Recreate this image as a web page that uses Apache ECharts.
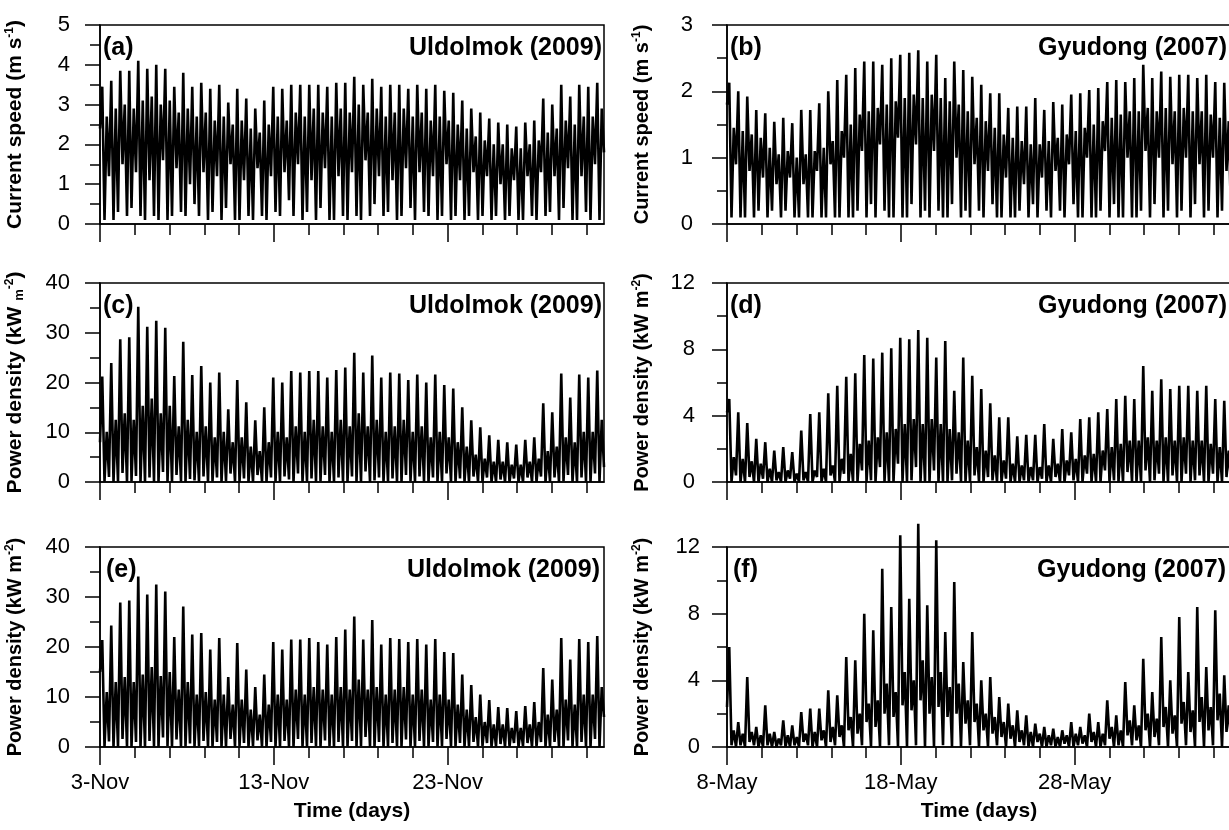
<!DOCTYPE html>
<html>
<head>
<meta charset="utf-8">
<title>Current speed and power density - Uldolmok / Gyudong</title>
<script src="https://cdn.jsdelivr.net/npm/echarts@6/dist/echarts.min.js"></script>
<style>
  html, body { margin: 0; padding: 0; background: #fff; }
  #chart { width: 1229px; height: 830px; }
</style>
</head>
<body>
<div id="chart"></div>
<script>
// one sample every half tidal hump (~3.1 h), expressed in days
const STEP = 29 / 224;

const dayTicks = [0, 2, 4, 6, 8, 10, 12, 14, 16, 18, 20, 22, 24, 26, 28];
const majorTicks = [0, 10, 20];
const novLabels = ['3-Nov', '13-Nov', '23-Nov'];
const mayLabels = ['8-May', '18-May', '28-May'];

// (a) Uldolmok current speed, m/s  (slack, peak, slack, peak ...)
const speedUldolmok = [
  2.4, 3.45, 0.1, 2.7, 1.2, 3.6, 0.1, 2.9, 0.3, 3.85, 1.5, 3.0, 0.2, 3.85, 0.4, 2.9,
  1.3, 4.1, 0.2, 3.1, 0.1, 3.9, 1.1, 3.2, 0.2, 4.0, 0.1, 3.0, 1.6, 3.9, 0.1, 3.1,
  0.2, 3.45, 1.4, 2.8, 0.3, 3.8, 0.2, 2.9, 1.0, 3.45, 0.5, 2.7, 0.2, 3.55, 1.3, 2.8,
  0.1, 3.4, 0.3, 2.6, 1.2, 3.5, 0.1, 2.7, 0.4, 3.05, 1.5, 2.5, 0.1, 3.4, 0.1, 2.6,
  1.1, 3.15, 0.2, 2.4, 0.1, 2.9, 1.4, 2.3, 0.2, 3.1, 0.1, 2.5, 1.2, 3.45, 0.3, 2.7,
  0.2, 3.4, 1.3, 2.6, 0.6, 3.5, 0.2, 2.8, 1.5, 3.5, 0.1, 2.7, 0.3, 3.5, 1.1, 2.9,
  0.1, 3.5, 0.4, 2.8, 1.4, 3.45, 0.1, 2.7, 0.1, 3.55, 1.2, 2.9, 0.2, 3.55, 0.1, 2.8,
  1.3, 3.7, 0.2, 3.0, 0.1, 3.5, 1.6, 2.8, 0.2, 3.65, 0.5, 2.9, 1.2, 3.45, 0.2, 2.7,
  0.3, 3.5, 1.1, 2.8, 0.1, 3.5, 0.2, 2.9, 1.4, 3.4, 0.4, 2.7, 0.1, 3.5, 1.3, 2.8,
  0.3, 3.4, 0.2, 2.6, 1.2, 3.5, 0.1, 2.7, 0.2, 3.35, 1.5, 2.6, 0.1, 3.3, 0.2, 2.5,
  1.1, 3.1, 0.1, 2.4, 0.2, 2.9, 1.3, 2.2, 0.1, 2.8, 0.2, 2.1, 1.2, 2.65, 0.1, 2.0,
  0.2, 2.55, 1.0, 2.0, 0.1, 2.5, 0.2, 1.9, 1.1, 2.45, 0.1, 1.9, 0.1, 2.55, 1.2, 2.0,
  0.2, 2.6, 0.1, 2.1, 1.3, 3.15, 0.2, 2.3, 0.3, 3.0, 1.2, 2.4, 0.1, 3.5, 0.4, 2.6,
  1.4, 3.2, 0.1, 2.5, 0.1, 3.5, 1.2, 2.7, 0.3, 3.45, 0.1, 2.7, 1.5, 3.55, 0.1, 2.9,
  1.8
];

// (b) Gyudong current speed, m/s
const speedGyudong = [
  1.8, 2.13, 0.1, 1.45, 0.9, 2.0, 0.1, 1.4, 0.1, 1.92, 0.8, 1.35, 0.1, 1.72, 0.2, 1.3,
  0.7, 1.67, 0.1, 1.15, 0.2, 1.54, 0.6, 1.05, 0.1, 1.6, 0.2, 1.1, 0.7, 1.52, 0.1, 1.0,
  0.1, 1.72, 0.6, 1.05, 0.1, 1.72, 0.1, 1.1, 0.8, 1.82, 0.1, 1.15, 0.1, 2.0, 0.9, 1.25,
  0.1, 2.17, 0.1, 1.4, 1.0, 2.25, 0.1, 1.5, 0.1, 2.35, 0.2, 1.65, 1.1, 2.45, 0.1, 1.7,
  0.3, 2.45, 0.1, 1.75, 1.2, 2.4, 0.2, 1.8, 0.1, 2.5, 0.1, 1.85, 1.3, 2.55, 0.1, 1.9,
  0.1, 2.58, 0.3, 1.95, 1.2, 2.62, 0.1, 1.9, 0.2, 2.45, 0.1, 1.95, 1.1, 2.55, 0.2, 1.9,
  0.1, 2.2, 0.1, 1.85, 0.3, 2.45, 1.0, 1.8, 0.1, 2.32, 0.2, 1.7, 0.1, 2.22, 0.9, 1.6,
  0.2, 2.1, 0.1, 1.55, 0.8, 1.97, 0.3, 1.45, 0.1, 1.97, 0.1, 1.35, 0.7, 1.75, 0.1, 1.3,
  0.1, 1.77, 0.2, 1.25, 0.6, 1.77, 0.1, 1.2, 0.3, 1.9, 0.1, 1.2, 0.7, 1.72, 0.2, 1.25,
  0.1, 1.84, 0.8, 1.3, 0.2, 1.8, 0.1, 1.35, 0.9, 1.95, 0.3, 1.4, 0.1, 1.97, 0.1, 1.45,
  1.0, 2.02, 0.1, 1.5, 0.1, 2.05, 0.2, 1.55, 1.1, 2.14, 0.1, 1.6, 0.3, 2.17, 0.1, 1.65,
  0.1, 2.14, 1.0, 1.7, 0.1, 2.2, 0.1, 1.7, 0.2, 2.4, 1.1, 1.75, 0.1, 2.2, 0.3, 1.7,
  1.0, 2.3, 0.1, 1.75, 0.2, 2.22, 0.9, 1.7, 0.1, 2.25, 0.2, 1.75, 1.0, 2.25, 0.1, 1.7,
  0.3, 2.2, 0.9, 1.7, 0.1, 2.25, 0.2, 1.65, 1.0, 2.14, 0.1, 1.6, 0.2, 2.13, 0.8, 1.55,
  0.1
];

// (c) Uldolmok power density, kW/m2
const powerUldolmokC = [
  8.0, 21.2, 0.1, 10.1, 1.0, 23.9, 0.0, 12.5, 0.1, 28.7, 1.8, 13.8, 0.0, 29.1, 0.2, 12.5,
  1.2, 35.2, 0.0, 15.3, 0.0, 31.2, 0.9, 16.8, 0.0, 32.4, 0.0, 13.8, 2.0, 31.0, 0.0, 15.3,
  0.0, 21.3, 1.4, 11.2, 0.1, 28.2, 0.0, 12.5, 0.6, 21.5, 0.3, 10.1, 0.0, 23.3, 1.1, 11.2,
  0.0, 20.0, 0.1, 9.0, 0.9, 22.0, 0.0, 10.1, 0.2, 14.6, 1.7, 8.0, 0.0, 20.5, 0.0, 9.0,
  0.7, 16.0, 0.0, 7.1, 0.0, 12.4, 1.4, 6.2, 0.0, 15.0, 0.0, 8.0, 0.9, 21.0, 0.1, 10.1,
  0.0, 20.0, 1.1, 9.0, 0.5, 22.3, 0.0, 11.2, 1.7, 22.0, 0.0, 10.1, 0.1, 22.3, 0.7, 12.5,
  0.0, 22.3, 0.2, 11.2, 1.4, 21.0, 0.0, 10.1, 0.0, 22.5, 0.9, 12.5, 0.0, 23.0, 0.0, 11.2,
  1.1, 26.0, 0.0, 13.8, 0.0, 22.0, 2.1, 11.2, 0.0, 25.4, 0.3, 12.5, 0.9, 21.0, 0.0, 10.1,
  0.1, 22.0, 0.7, 11.2, 0.0, 21.8, 0.0, 12.5, 1.4, 20.5, 0.2, 10.1, 0.0, 21.6, 1.1, 11.2,
  0.1, 20.0, 0.0, 9.0, 0.9, 21.6, 0.0, 10.1, 0.0, 19.5, 1.7, 9.0, 0.0, 18.8, 0.0, 8.0,
  0.7, 15.0, 0.0, 7.1, 0.0, 12.4, 1.1, 5.5, 0.0, 11.0, 0.0, 4.7, 0.9, 9.4, 0.0, 4.1,
  0.0, 8.5, 0.5, 4.1, 0.0, 8.0, 0.0, 3.5, 0.7, 7.5, 0.0, 3.5, 0.0, 8.5, 0.9, 4.1,
  0.0, 9.0, 0.0, 4.7, 1.1, 15.8, 0.0, 6.2, 0.1, 14.0, 0.9, 7.1, 0.0, 21.8, 0.2, 9.0,
  1.4, 17.0, 0.0, 8.0, 0.0, 21.6, 0.9, 10.1, 0.1, 21.0, 0.0, 10.1, 1.7, 22.4, 0.0, 12.5,
  3.0
];

// (d) Gyudong power density, kW/m2
const powerGyudongD = [
  4.2, 5.0, 0.0, 1.5, 0.4, 4.2, 0.0, 1.4, 0.0, 3.55, 0.3, 1.25, 0.0, 2.6, 0.0, 1.1,
  0.2, 2.4, 0.0, 0.8, 0.0, 1.9, 0.1, 0.6, 0.0, 2.1, 0.0, 0.7, 0.2, 1.8, 0.0, 0.5,
  0.0, 3.1, 0.1, 0.6, 0.0, 4.1, 0.0, 0.7, 0.3, 4.2, 0.0, 0.8, 0.0, 5.35, 0.4, 1.0,
  0.0, 5.8, 0.0, 1.4, 0.5, 6.35, 0.0, 1.7, 0.0, 6.55, 0.0, 2.3, 0.7, 7.65, 0.0, 2.5,
  0.1, 7.45, 0.0, 2.7, 0.9, 7.8, 0.0, 3.0, 0.0, 8.07, 0.0, 3.2, 1.1, 8.7, 0.0, 3.5,
  0.0, 8.6, 0.1, 3.8, 0.9, 9.16, 0.0, 3.5, 0.0, 8.7, 0.0, 3.8, 0.7, 7.5, 0.0, 3.5,
  0.0, 8.5, 0.0, 3.2, 0.1, 5.5, 0.5, 3.0, 0.0, 7.5, 0.0, 2.5, 0.0, 6.4, 0.4, 2.1,
  0.0, 5.6, 0.0, 1.9, 0.3, 4.75, 0.1, 1.6, 0.0, 3.9, 0.0, 1.3, 0.2, 3.9, 0.0, 1.1,
  0.0, 2.75, 0.0, 1.0, 0.1, 2.85, 0.0, 0.9, 0.1, 2.85, 0.0, 0.9, 0.2, 3.5, 0.0, 1.0,
  0.0, 2.6, 0.3, 1.1, 0.0, 3.2, 0.0, 1.3, 0.4, 3.0, 0.1, 1.4, 0.0, 3.8, 0.0, 1.6,
  0.5, 3.9, 0.0, 1.7, 0.0, 4.2, 0.0, 1.9, 0.7, 4.4, 0.0, 2.1, 0.1, 5.0, 0.0, 2.3,
  0.0, 5.2, 0.6, 2.5, 0.0, 5.0, 0.0, 2.5, 0.0, 7.0, 0.7, 2.7, 0.0, 5.5, 0.1, 2.5,
  0.5, 6.2, 0.0, 2.7, 0.0, 5.6, 0.4, 2.5, 0.0, 5.8, 0.0, 2.7, 0.5, 5.8, 0.0, 2.5,
  0.1, 5.5, 0.4, 2.5, 0.0, 5.8, 0.0, 2.3, 0.5, 5.0, 0.0, 2.1, 0.0, 4.9, 0.3, 1.9,
  0.0
];

// (e) Uldolmok power density, kW/m2
const powerUldolmokE = [
  15.0, 21.4, 0.0, 11.0, 1.1, 24.3, 0.0, 13.0, 0.0, 28.9, 1.6, 14.0, 0.0, 29.3, 0.0, 13.0,
  1.0, 34.1, 0.0, 14.5, 0.0, 30.5, 1.2, 16.0, 0.1, 32.5, 0.0, 14.2, 1.9, 31.1, 0.2, 15.0,
  0.0, 22.0, 1.5, 11.5, 0.0, 28.1, 0.1, 13.0, 0.7, 22.5, 0.0, 10.5, 0.2, 22.8, 1.2, 11.0,
  0.0, 19.5, 0.0, 9.5, 1.0, 21.8, 0.0, 10.5, 0.0, 14.0, 1.6, 8.5, 0.0, 20.8, 0.1, 9.5,
  0.8, 15.5, 0.0, 7.5, 0.2, 12.0, 1.3, 6.5, 0.0, 14.5, 0.0, 8.5, 1.0, 21.0, 0.0, 10.5,
  0.0, 19.5, 1.2, 9.5, 0.0, 21.5, 0.0, 11.5, 1.6, 21.5, 0.0, 10.5, 0.0, 21.8, 0.8, 12.0,
  0.1, 21.0, 0.0, 11.5, 1.3, 20.5, 0.2, 10.5, 0.0, 22.0, 1.0, 12.0, 0.0, 23.5, 0.1, 11.5,
  1.2, 26.1, 0.0, 13.5, 0.2, 21.5, 2.0, 11.5, 0.0, 25.4, 0.0, 12.0, 1.0, 20.5, 0.0, 10.5,
  0.0, 21.8, 0.8, 11.5, 0.0, 21.6, 0.0, 12.0, 1.5, 21.0, 0.0, 10.5, 0.0, 21.6, 1.2, 11.5,
  0.0, 20.5, 0.1, 9.5, 1.0, 21.6, 0.0, 10.5, 0.2, 19.0, 1.6, 9.5, 0.0, 18.8, 0.1, 8.5,
  0.8, 14.5, 0.0, 7.5, 0.1, 12.4, 1.0, 6.0, 0.0, 10.5, 0.2, 5.0, 0.8, 9.4, 0.0, 4.5,
  0.1, 8.0, 0.6, 4.5, 0.0, 7.8, 0.1, 3.8, 0.8, 7.2, 0.0, 3.8, 0.2, 8.2, 0.8, 4.5,
  0.0, 9.0, 0.1, 5.0, 1.0, 15.8, 0.0, 6.5, 0.0, 13.5, 1.0, 7.5, 0.0, 21.8, 0.0, 9.5,
  1.3, 17.5, 0.0, 8.5, 0.0, 21.6, 1.0, 10.5, 0.0, 21.0, 0.0, 10.5, 1.6, 22.2, 0.0, 12.0,
  6.0
];

// (f) Gyudong power density, kW/m2
const powerGyudongF = [
  2.4, 6.0, 0.1, 1.0, 0.0, 1.5, 0.1, 0.8, 0.0, 4.2, 0.3, 0.9, 0.1, 1.2, 0.0, 0.7,
  0.0, 2.5, 0.1, 0.8, 0.0, 0.9, 0.0, 0.5, 0.1, 1.6, 0.0, 0.7, 0.0, 1.3, 0.1, 0.6,
  0.0, 2.1, 0.3, 0.8, 0.1, 2.3, 0.0, 0.9, 0.0, 2.3, 0.4, 1.0, 0.0, 3.4, 0.3, 1.2,
  0.1, 3.1, 0.6, 1.3, 0.0, 5.4, 1.0, 1.8, 0.0, 5.2, 0.8, 2.0, 0.1, 8.0, 1.5, 2.6,
  0.0, 7.0, 1.2, 2.8, 0.0, 10.7, 2.0, 3.8, 0.1, 8.4, 1.8, 3.3, 0.0, 12.7, 2.5, 4.5,
  0.0, 8.9, 2.2, 4.0, 0.1, 13.4, 2.8, 5.2, 0.0, 8.5, 2.0, 4.2, 0.0, 12.4, 2.4, 4.5,
  0.1, 6.9, 1.8, 3.6, 0.0, 9.9, 2.0, 3.8, 0.0, 5.1, 1.4, 2.8, 0.1, 6.9, 1.5, 2.6,
  0.0, 4.0, 1.0, 2.0, 0.0, 4.2, 0.8, 1.8, 0.1, 3.0, 0.6, 1.5, 0.0, 2.6, 0.5, 1.3,
  0.0, 2.2, 0.3, 1.0, 0.1, 1.9, 0.0, 0.9, 0.0, 1.4, 0.3, 0.8, 0.0, 1.2, 0.0, 0.7,
  0.1, 1.1, 0.0, 0.6, 0.0, 1.0, 0.2, 0.7, 0.0, 1.5, 0.0, 0.8, 0.1, 1.2, 0.2, 0.7,
  0.0, 2.0, 0.3, 0.9, 0.0, 1.5, 0.0, 0.8, 0.1, 2.8, 0.5, 1.2, 0.0, 1.9, 0.1, 1.0,
  0.0, 3.9, 0.7, 1.6, 0.1, 2.5, 0.4, 1.3, 0.0, 5.3, 1.0, 2.0, 0.0, 3.3, 0.6, 1.7,
  0.1, 6.6, 1.2, 2.4, 0.0, 4.0, 0.8, 1.9, 0.0, 7.8, 1.4, 2.7, 0.1, 4.5, 0.9, 2.2,
  0.0, 8.4, 1.5, 3.0, 0.0, 4.8, 1.0, 2.4, 0.1, 8.2, 1.6, 3.2, 0.0, 4.3, 0.9, 2.5,
  0.2
];

const FONT = 'Arial, "Liberation Sans", sans-serif';
const BLACK = '#000';

// 布局：左列 Uldolmok，右列 Gyudong（右列在畫面右緣被截掉）
const panels = [
  { left: 100, top: 25, height: 199, values: speedUldolmok, max: 5, interval: 1,
    name: 'Current speed (m s{sup|-1})', tag: '(a)', site: 'Uldolmok (2009)', bottom: false,
    labelMargin: 30, nameSize: 21, tagX: 103, siteX: 602 },
  { left: 727, top: 25, height: 199, values: speedGyudong, max: 3, interval: 1,
    name: 'Current speed (m s{sup|-1})', tag: '(b)', site: 'Gyudong (2007)', bottom: false,
    labelMargin: 34, nameSize: 20, tagX: 730, siteX: 1227 },
  { left: 100, top: 283, height: 199, values: powerUldolmokC, max: 40, interval: 10,
    name: 'Power density (kW {low|m}{sup|-2})', tag: '(c)', site: 'Uldolmok (2009)', bottom: false,
    labelMargin: 30, nameSize: 21, tagX: 103, siteX: 602 },
  { left: 727, top: 283, height: 199, values: powerGyudongD, max: 12, interval: 4,
    name: 'Power density (kW m{sup|-2})', tag: '(d)', site: 'Gyudong (2007)', bottom: false,
    labelMargin: 32, nameSize: 20, tagX: 730, siteX: 1227 },
  { left: 100, top: 547, height: 200, values: powerUldolmokE, max: 40, interval: 10,
    name: 'Power density (kW m{sup|-2})', tag: '(e)', site: 'Uldolmok (2009)', bottom: true,
    labelMargin: 30, nameSize: 20, tagX: 106, siteX: 600, dates: novLabels },
  { left: 727, top: 547, height: 200, values: powerGyudongF, max: 12, interval: 4,
    name: 'Power density (kW m{sup|-2})', tag: '(f)', site: 'Gyudong (2007)', bottom: true,
    labelMargin: 27, nameSize: 20, tagX: 733, siteX: 1226, dates: mayLabels, noClip: true }
];

const grid = [];
const xAxis = [];
const yAxis = [];
const series = [];
const graphic = [];

panels.forEach((p, i) => {
  grid.push({
    left: p.left, top: p.top, width: 504, height: p.height,
    containLabel: false, outerBoundsMode: 'none',
    show: true, borderColor: BLACK, borderWidth: 1.5, backgroundColor: 'transparent'
  });

  // 每兩天一個短刻度
  xAxis.push({
    gridIndex: i, type: 'value', min: 0, max: 29, position: 'bottom',
    axisLine: { show: true, lineStyle: { color: BLACK, width: 1.5 } },
    axisTick: { show: true, length: 11, customValues: dayTicks, lineStyle: { color: BLACK, width: 1.5 } },
    axisLabel: { show: false },
    splitLine: { show: false }
  });
  // 每十天一個長刻度 + 日期
  xAxis.push({
    gridIndex: i, type: 'value', min: 0, max: 29, position: 'bottom',
    axisLine: { show: false },
    axisTick: { show: true, length: 18, customValues: majorTicks, lineStyle: { color: BLACK, width: 1.5 } },
    axisLabel: {
      show: p.bottom, customValues: majorTicks, margin: 25,
      fontFamily: FONT, fontSize: 22, color: BLACK,
      formatter: (v) => (p.dates ? p.dates[majorTicks.indexOf(v)] || '' : '')
    },
    splitLine: { show: false },
    name: p.bottom ? 'Time (days)' : '',
    nameLocation: 'middle', nameGap: 54,
    nameTextStyle: { fontFamily: FONT, fontSize: 21, fontWeight: 'bold', color: BLACK }
  });

  yAxis.push({
    gridIndex: i, type: 'value', min: 0, max: p.max, interval: p.interval,
    axisLine: { show: true, lineStyle: { color: BLACK, width: 1.5 } },
    axisTick: { show: true, length: 15, lineStyle: { color: BLACK, width: 1.5 } },
    minorTick: { show: true, splitNumber: 2, length: 10, lineStyle: { color: BLACK, width: 1.5 } },
    axisLabel: { fontFamily: FONT, fontSize: 22, color: BLACK, margin: p.labelMargin },
    splitLine: { show: false },
    minorSplitLine: { show: false },
    name: p.name, nameLocation: 'middle', nameRotate: 90, nameGap: 74,
    nameTextStyle: {
      fontFamily: FONT, fontSize: p.nameSize, fontWeight: 'bold', color: BLACK,
      rich: {
        sup: { fontFamily: FONT, fontSize: 12, fontWeight: 'bold', color: BLACK, verticalAlign: 'top', lineHeight: 22 },
        low: { fontFamily: FONT, fontSize: 13, fontWeight: 'bold', color: BLACK, verticalAlign: 'bottom', lineHeight: 22 }
      }
    }
  });

  series.push({
    type: 'line',
    xAxisIndex: 2 * i, yAxisIndex: i,
    data: p.values.map((v, k) => [k * STEP, v]),
    symbol: 'none',
    clip: !p.noClip,
    lineStyle: { color: BLACK, width: 2.6 },
    silent: true
  });

  const cy = p.top + 23;
  graphic.push({
    type: 'text', x: p.tagX, y: cy,
    style: { text: p.tag, font: 'bold 25px ' + FONT, fill: BLACK, align: 'left', verticalAlign: 'middle' }
  });
  graphic.push({
    type: 'text', x: p.siteX, y: cy,
    style: { text: p.site, font: 'bold 25px ' + FONT, fill: BLACK, align: 'right', verticalAlign: 'middle' }
  });
});

const chart = echarts.init(document.getElementById('chart'), null, { renderer: 'canvas' });
chart.setOption({
  backgroundColor: '#fff',
  animation: false,
  grid, xAxis, yAxis, series, graphic
});
</script>
</body>
</html>
